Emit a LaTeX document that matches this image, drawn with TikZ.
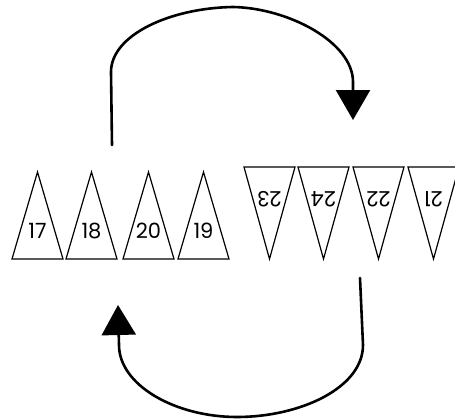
\documentclass[tikz,border=0pt]{standalone}
\usepackage{fontspec}
\newfontfamily\gothic{Poppins}
\usetikzlibrary{arrows.meta}

\begin{document}
\begin{tikzpicture}[
        x=1pt, y=-1pt,
        flag/.style={draw=black, line width=1.2pt, line join=miter},
        num/.style={font=\gothic\fontsize{21}{21}\selectfont, inner sep=0pt},
        swaparrow/.style={line width=2.6pt, line cap=round, -{Triangle[length=30pt,width=34pt]}},
    ]
    \useasboundingbox (0,0) rectangle (455,420);

    % ===== Upward flags (left group) =====
    \foreach \xl/\lab in {12/17, 66/18, 123/20, 178/19} {
        \draw[flag] (\xl,259) -- (\xl+25.5,172) -- (\xl+51,259) -- cycle;
        \node[num] (up\lab) at (\xl+25.5,231) {\lab};
    }

    % ===== Downward flags (right group) =====
    \foreach \xl/\lab in {244/23, 298/24, 353/22, 408/21} {
        \draw[flag] (\xl,167) -- (\xl+25.5,259) -- (\xl+51,167) -- cycle;
        \node[num, rotate=180] (dn\lab) at (\xl+25.5,199) {\lab};
    }

    % ===== Swap arrows =====
    \coordinate (topStart) at (112,145);
    \coordinate (topEnd) at (353,120);
    \coordinate (botStart) at (360,278);
    \coordinate (botEnd) at (118,305);

    \draw[swaparrow] (topStart) -- (111,72)
        .. controls (111,35) and (170,8) .. (233,7)
        .. controls (288,8) and (353,42) .. (353,82) -- (topEnd);
    \draw[swaparrow] (botStart) -- (363,345)
        .. controls (363,388) and (300,417) .. (237,417)
        .. controls (175,417) and (119,385) .. (119,345) -- (botEnd);

\end{tikzpicture}
\end{document}
